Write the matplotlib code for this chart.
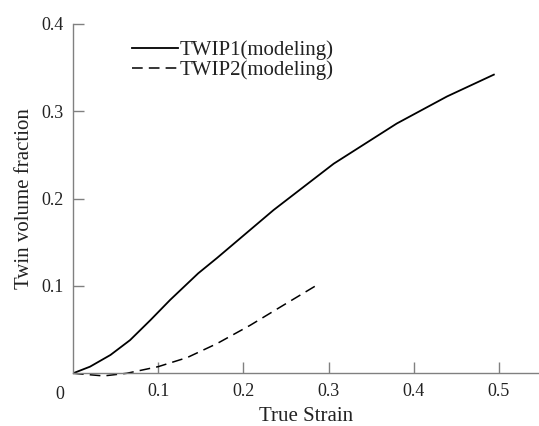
import matplotlib
matplotlib.use("Agg")
import matplotlib.pyplot as plt

plt.rcParams['font.family'] = ['Liberation Serif', 'DejaVu Serif']

twip1_strain = [0.0, 0.020, 0.044, 0.067, 0.091, 0.114, 0.147, 0.169, 0.2355,
                0.306, 0.380, 0.439, 0.494]
twip1_frac = [0.0, 0.0076, 0.021, 0.038, 0.061, 0.084, 0.1145, 0.132, 0.187,
              0.240, 0.286, 0.317, 0.342]

twip2_strain = [0.0, 0.036, 0.063, 0.10, 0.134, 0.169, 0.208, 0.247, 0.288]
twip2_frac = [0.0, -0.003, 0.0, 0.0076, 0.018, 0.034, 0.055, 0.078, 0.102]

xticks = [0.1, 0.2, 0.3, 0.4, 0.5]
yticks = [0.1, 0.2, 0.3, 0.4]

fig = plt.figure(figsize=(5.39, 4.26), dpi=100)
ax = fig.add_axes([0.1354, 0.1237, 0.8646, 0.82])

ax.plot(twip1_strain, twip1_frac, color='black', lw=1.3, label='TWIP1(modeling)',
        solid_joinstyle='round')
ax.plot(twip2_strain, twip2_frac, color='black', lw=1.1, dashes=(7, 4),
        label='TWIP2(modeling)', clip_on=False)

ax.set_xlim(0, 0.547)
ax.set_ylim(0, 0.4)
ax.set_xticks(xticks)
ax.set_xticklabels([str(t) for t in xticks])
ax.set_yticks(yticks)
ax.set_yticklabels([str(t) for t in yticks])

for s in ['top', 'right']:
    ax.spines[s].set_visible(False)
for s in ['left', 'bottom']:
    ax.spines[s].set_color('#808080')
    ax.spines[s].set_linewidth(1.0)

ax.tick_params(axis='both', direction='in', length=8, width=1.0, color='#808080',
               labelsize=13, labelcolor='#222222')
ax.tick_params(axis='x', pad=7)
ax.tick_params(axis='y', pad=7)

ax.text(-0.015, -0.014, '0', transform=ax.transData, ha='center', va='top',
        fontsize=13, color='#222222')

ax.set_xlabel('True Strain', fontsize=15, color='#222222', labelpad=5)
ax.set_ylabel('Twin volume fraction', fontsize=15, color='#222222', labelpad=5)

leg = ax.legend(loc='upper left', bbox_to_anchor=(0.1085, 0.977), frameon=False,
                fontsize=15, handlelength=2.2, handletextpad=0.1, labelspacing=0.0,
                borderaxespad=0)
for t in leg.get_texts():
    t.set_color('#222222')

fig.savefig('out.png', dpi=100)
